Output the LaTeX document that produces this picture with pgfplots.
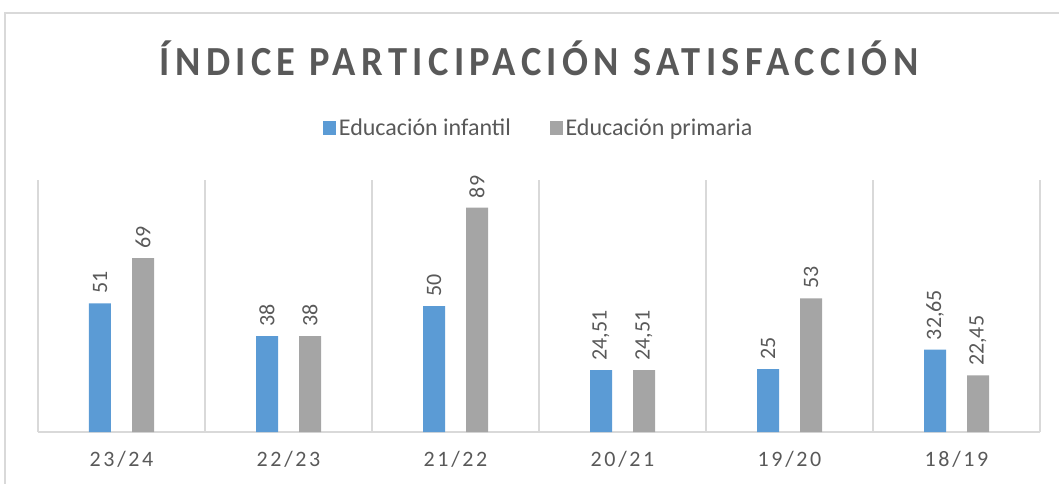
\documentclass[border=0pt]{standalone}
\usepackage{pgfplots}
\pgfplotsset{compat=1.18}
\usepackage{fontspec}
\setmainfont{Carlito}
\newfontfamily\titlefont[LetterSpace=13,FakeStretch=0.93]{Carlito}
\newfontfamily\tickfont[LetterSpace=12]{Carlito}
\definecolor{infantil}{HTML}{5B9BD5}
\definecolor{primaria}{HTML}{A5A5A5}
\definecolor{gridgray}{HTML}{D9D9D9}
\definecolor{textgray}{HTML}{595959}

\begin{document}
\begin{tikzpicture}[x=0.75pt,y=0.75pt]
\useasboundingbox (0,0) rectangle (1059,483);
% chart frame (cut off on the right and at the bottom)
\draw[gridgray, line width=1.2pt] (5,-20) -- (5,470) -- (1080,470);
\node[font=\titlefont\bfseries\fontsize{31}{36}\selectfont, text=textgray] at (539,425) {ÍNDICE PARTICIPACIÓN SATISFACCIÓN};

\begin{axis}[
    at={(28.5pt,38.25pt)}, anchor=south west,
    width=751.5pt, height=189pt, scale only axis,
    xmin=-0.5, xmax=5.5, ymin=0, ymax=100,
    axis line style={draw=none},
    ybar=15.75pt, bar width=16.5pt,
    xtick={0,...,5},
    xticklabels={23/24,22/23,21/22,20/21,19/20,18/19},
    x tick label style={font=\tickfont\fontsize{16.5}{20}\selectfont, text=textgray, yshift=-11pt},
    major tick length=0pt, minor tick length=0pt,
    minor xtick={-0.5,0.5,...,5.5},
    xminorgrids=true,
    minor grid style={gridgray, line width=1.1pt},
    ytick=\empty,
    extra y ticks={0}, extra y tick labels={},
    extra y tick style={ymajorgrids=true, major grid style={gridgray, line width=1.6pt}},
    clip=false,
    point meta=explicit symbolic,
    nodes near coords=\pgfplotspointmeta,
    every node near coord/.append style={rotate=90, anchor=west, inner xsep=7pt, inner ysep=0pt,
        font=\fontsize{16.5}{20}\selectfont, text=textgray},
    legend style={at={(0.5,1.206)}, anchor=center, draw=none, legend columns=2,
        font=\fontsize{18}{22}\selectfont, text=textgray,
        /tikz/every even column/.append style={column sep=27pt}},
    legend image code/.code={\fill[#1] (0pt,-5pt) rectangle (10pt,5pt);},
]
\addplot[fill=infantil, draw=none] coordinates {
    (0,51) [51] (1,38) [38] (2,50) [50] (3,24.51) [{24,51}] (4,25) [25] (5,32.65) [{32,65}]
};
\addplot[fill=primaria, draw=none] coordinates {
    (0,69) [69] (1,38) [38] (2,89) [89] (3,24.51) [{24,51}] (4,53) [53] (5,22.45) [{22,45}]
};
\legend{Educación infantil, Educación primaria}
\end{axis}
\end{tikzpicture}
\end{document}
